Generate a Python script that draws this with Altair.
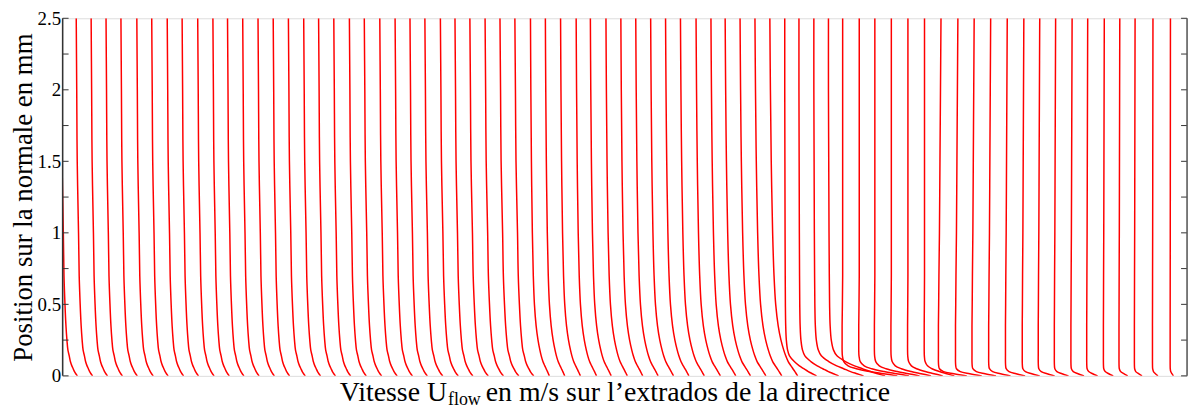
import altair as alt
import pandas as pd

# ---- data ----
# heights (mm) at which each profile is sampled
y_levels = [2.5, 2.0, 1.5, 1.0, 0.7, 0.5, 0.35, 0.25, 0.18, 0.14, 0.10, 0.07, 0.05, 0.03, 0.015, 0.0]

# normalised profile shapes (horizontal displacement relative to outer value)
shape_turb = [0, 0.03, 0.06, 0.14, 0.18, 0.24, 0.30, 0.36, 0.42, 0.50, 0.57, 0.66, 0.74, 0.82, 0.90, 1.0]
shape_lean = [0, 0.02, 0.05, 0.10, 0.15, 0.21, 0.30, 0.40, 0.50, 0.57, 0.66, 0.76, 0.83, 0.90, 0.95, 1.0]
shape_knee_hi = [0, 0.0, 0.005, 0.01, 0.015, 0.02, 0.03, 0.05, 0.09, 0.15, 0.30, 0.46, 0.60, 0.74, 0.87, 1.0]
shape_knee_mid = [0, 0, 0, 0, 0, -0.005, -0.01, -0.01, -0.01, -0.005, 0.02, 0.10, 0.25, 0.50, 0.75, 1.0]
shape_knee_lo = [0, -0.02, -0.04, -0.06, -0.08, -0.09, -0.10, -0.10, -0.10, -0.10, -0.10, -0.09, -0.06, 0.10, 0.50, 1.0]

# outer (shifted) value of each profile
profile_x0 = [
    61.4,
    76.7, 91.7, 106.7, 121.7, 137.7, 152.7, 168.3, 183.3, 199, 214.3, 229, 244.3, 259.7,
    275, 290.3, 305.7, 320.7, 336, 351.7, 366.7, 382.3, 397.7, 412.7, 427.7, 443.3,
    458, 473, 488.3, 503.3, 518.3, 534, 549, 564.3, 580, 594.3, 610, 625, 640, 655,
    670, 685, 700.7, 715.7, 730, 745, 760, 775, 790, 804.3, 819.3, 834,
    848.3, 865, 880.7, 897.3, 914, 930.7, 947.3, 964.3, 980.7, 997.3, 1014, 1030.7,
    1046.7, 1062.7, 1079.3, 1095, 1111.7, 1127.3, 1142.7, 1160.7, 1178.3,
]
profile_family = (["turb"] * 31 + ["lean"] * 17 + ["knee_hi"] * 4
                  + ["knee_mid"] * 6 + ["knee_lo"] * 15)
profile_amp = (
    [16.5] * 15 + [17, 17, 17, 17, 17, 17.5, 17.5, 17.5, 17.5, 18, 18, 18, 18.5, 18.5, 19, 19]
    + [19, 19.5, 20, 20.5, 21, 21.5, 22, 22.5, 23, 23.5, 24, 24.5, 25, 25.5, 26, 27, 28]
    + [32, 40, 50, 57]
    + [55, 50, 45, 40, 35, 30]
    + [26, 24, 22, 20, 18, 16, 15, 13, 12, 10, 9, 8, 7, 5, 3]
)

y_ticks = [0, 0.25, 0.5, 0.75, 1.0, 1.25, 1.5, 1.75, 2.0, 2.25, 2.5]
x_domain = [63, 1195]

shapes = {
    "turb": shape_turb,
    "lean": shape_lean,
    "knee_hi": shape_knee_hi,
    "knee_mid": shape_knee_mid,
    "knee_lo": shape_knee_lo,
}

rows = []
for k, (x0, fam, amp) in enumerate(zip(profile_x0, profile_family, profile_amp)):
    for j, (yv, s) in enumerate(zip(y_levels, shapes[fam])):
        rows.append({"profile": k, "j": j, "u": x0 + amp * s, "y": yv})
df = pd.DataFrame(rows)
ticks_df = pd.DataFrame({"t": y_ticks})
one_df = pd.DataFrame({"k": [0]})

W, H = 1132, 360
FONT = "Liberation Serif"

xscale = alt.Scale(domain=x_domain, nice=False, zero=False)
yscale = alt.Scale(domain=[0, 2.5], nice=False, zero=False)

lines = alt.Chart(df).mark_line(
    color="#ff0000", strokeWidth=1.5, interpolate="catmull-rom", clip=True
).encode(
    x=alt.X("u:Q", scale=xscale, axis=None),
    y=alt.Y(
        "y:Q",
        scale=yscale,
        axis=alt.Axis(
            values=y_ticks,
            ticks=False,
            domain=False,
            grid=False,
            labelExpr="datum.value % 0.5 == 0 ? format(datum.value, '~g') : ''",
            labelFont=FONT,
            labelFontSize=19,
            labelColor="black",
            labelPadding=2,
            title="Position sur la normale en mm",
            titleFont=FONT,
            titleFontSize=27,
            titleFontWeight="normal",
            titleColor="black",
            titlePadding=0,
        ),
    ),
    detail="profile:N",
    order="j:Q",
)

left_ticks = alt.Chart(ticks_df).mark_rule(color="#333333", strokeWidth=1).encode(
    y=alt.Y("t:Q", scale=yscale), x=alt.value(0), x2=alt.value(6)
)
right_ticks = alt.Chart(ticks_df).mark_rule(color="#333333", strokeWidth=1).encode(
    y=alt.Y("t:Q", scale=yscale), x=alt.value(W - 6), x2=alt.value(W)
)
left_border = alt.Chart(one_df).mark_rule(color="#333333", strokeWidth=1.5).encode(
    x=alt.value(0), y=alt.value(0), y2=alt.value(H)
)
right_border = alt.Chart(one_df).mark_rule(color="#555555", strokeWidth=1.5).encode(
    x=alt.value(W), y=alt.value(0), y2=alt.value(H)
)

title_main = alt.Chart(one_df).mark_text(
    text="Vitesse U", font=FONT, fontSize=28, fontWeight="normal",
    align="right", baseline="alphabetic", color="black"
).encode(x=alt.value(387), y=alt.value(H + 25))
title_sub = alt.Chart(one_df).mark_text(
    text="flow", font=FONT, fontSize=18, fontWeight="normal",
    align="left", baseline="alphabetic", color="black"
).encode(x=alt.value(388), y=alt.value(H + 29))
title_rest = alt.Chart(one_df).mark_text(
    text="en m/s sur l\u2019extrados de la directrice", font=FONT, fontSize=28,
    fontWeight="normal", align="left", baseline="alphabetic", color="black"
).encode(x=alt.value(426), y=alt.value(H + 25))

chart = alt.layer(
    lines, left_ticks, right_ticks, left_border, right_border,
    title_main, title_sub, title_rest
).properties(
    width=W,
    height=H,
    autosize=alt.AutoSizeParams(type="none"),
    padding={"left": 55, "top": 9, "right": 5, "bottom": 31},
).configure_view(
    stroke="#999999", strokeWidth=2
).configure(
    background="white"
)

chart.save("out.html", embed_options={"renderer": "svg", "actions": False})
